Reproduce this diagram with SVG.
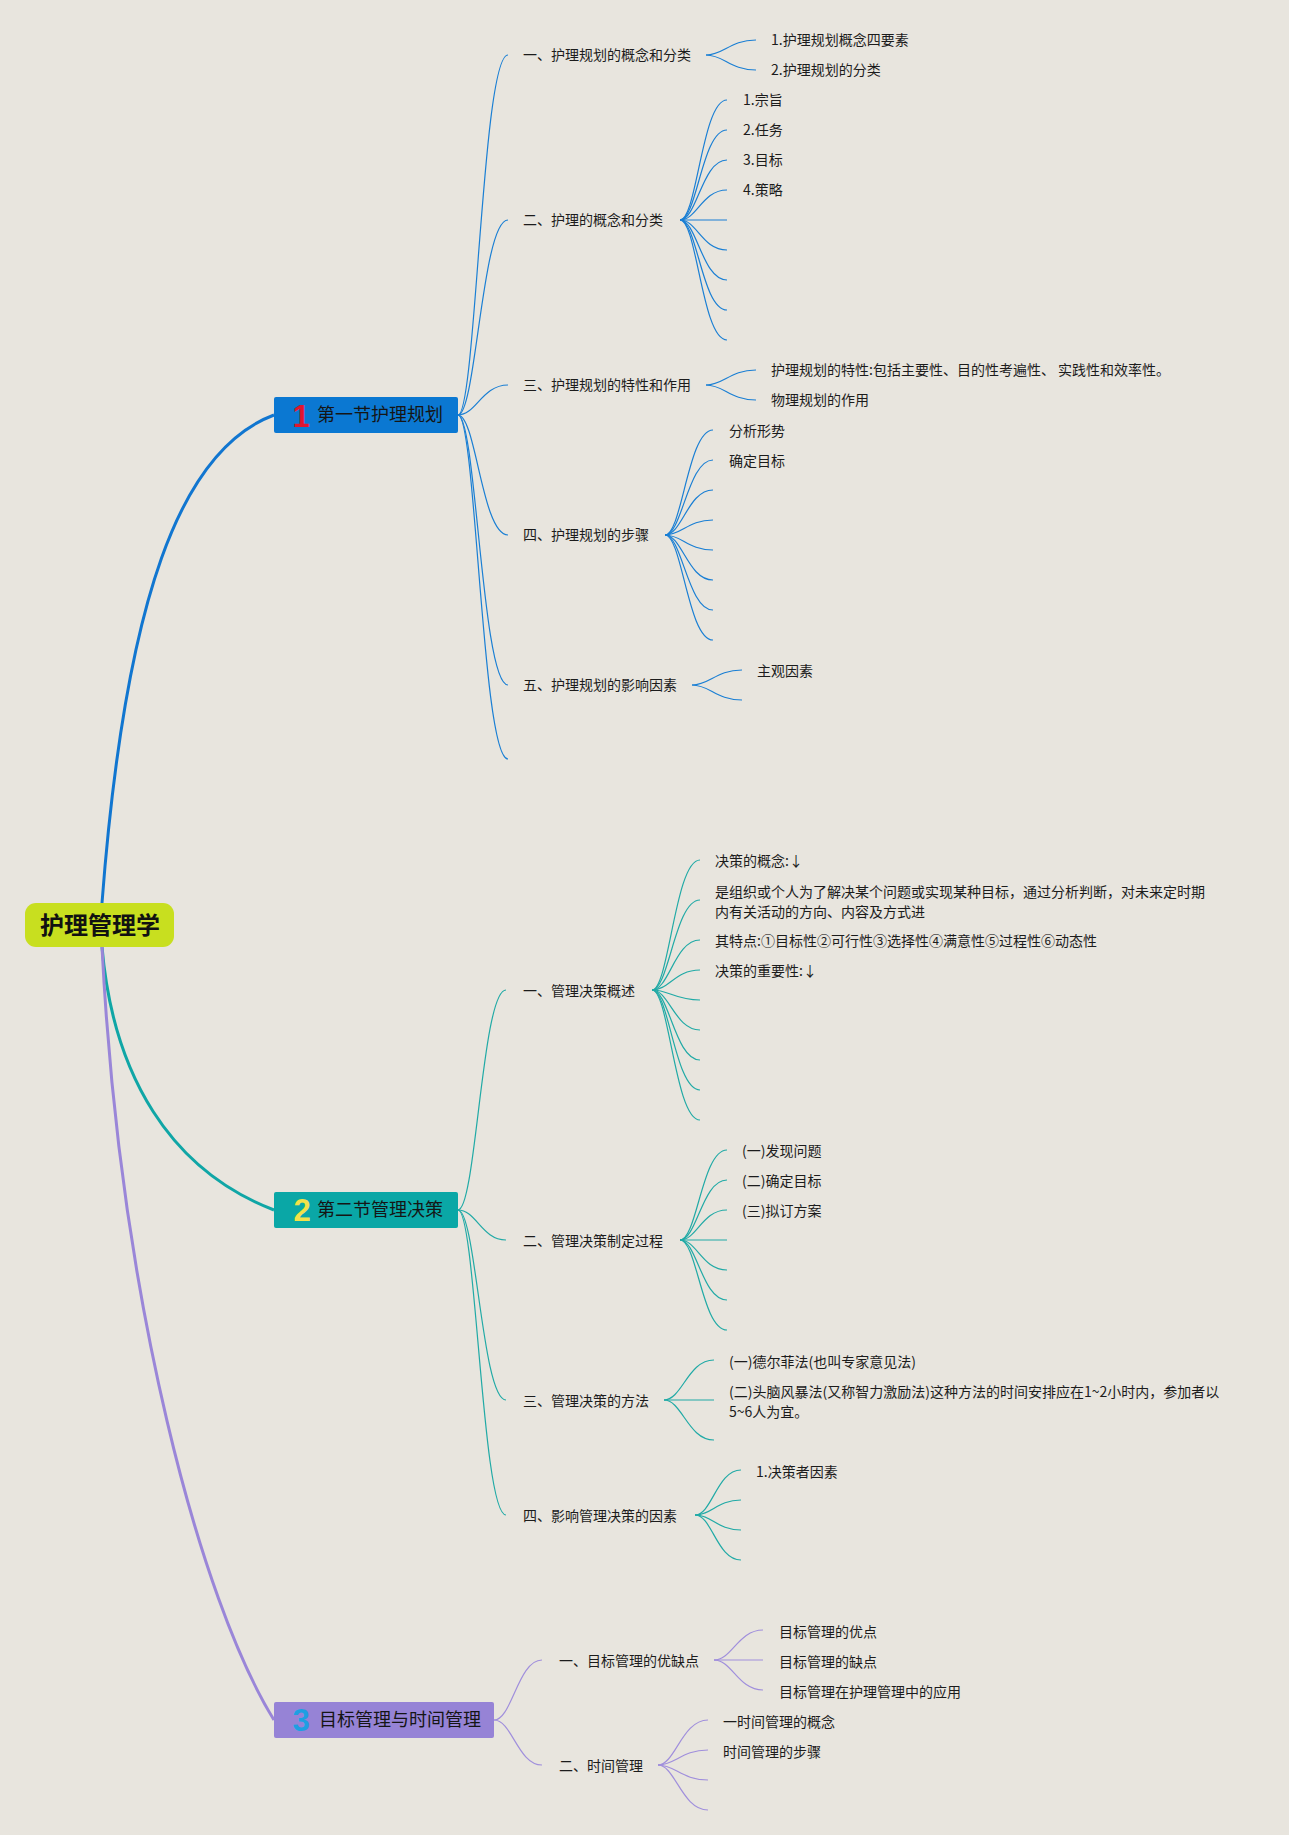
<svg xmlns="http://www.w3.org/2000/svg" width="1289" height="1835" viewBox="0 0 1289 1835">
<style>
.t{font-family:"Noto Sans CJK SC","Noto Sans",sans-serif;font-size:14px;fill:#1c1c1c}
.sec{font-family:"Noto Sans CJK SC","Noto Sans",sans-serif;font-size:18px;fill:#151515}
.num{font-family:"Liberation Sans","Noto Sans",sans-serif;font-size:31px;font-weight:bold;text-anchor:middle}
.root{font-family:"Noto Sans CJK SC","Noto Sans",sans-serif;font-size:24px;font-weight:bold;fill:#111;text-anchor:middle}
.b{fill:none;stroke:#1a7fd4;stroke-width:1.2}
.g{fill:none;stroke:#21aaa6;stroke-width:1.2}
.p{fill:none;stroke:#a08fdc;stroke-width:1.2}
</style>
<rect x="0" y="0" width="1289" height="1835" fill="#e8e5de"/>
<g id="connectors">
  <path d="M102,903 C125,600 180,450 274,415" fill="none" stroke="#1176d0" stroke-width="3"/>
  <path d="M102,947 C113,1075 170,1170 274,1210" fill="none" stroke="#10a6a6" stroke-width="3"/>
  <path d="M102,947 C120,1300 200,1600 274,1720" fill="none" stroke="#9a86d8" stroke-width="3"/>
  <!-- section 1 -->
  <path class="b" d="M458,415 C476,415 482,55 508,55"/>
  <path class="b" d="M458,415 C476,415 482,220 508,220"/>
  <path class="b" d="M458,415 C476,415 482,385 508,385"/>
  <path class="b" d="M458,415 C476,415 482,535 508,535"/>
  <path class="b" d="M458,415 C476,415 482,685 508,685"/>
  <path class="b" d="M458,415 C476,415 482,759 508,759"/>
  <path class="b" d="M706,55 C724,55 730,40 756,40"/>
  <path class="b" d="M706,55 C724,55 730,70 756,70"/>
  <path class="b" d="M680,220 C697,220 702,100 727,100"/>
  <path class="b" d="M680,220 C697,220 702,130 727,130"/>
  <path class="b" d="M680,220 C697,220 702,160 727,160"/>
  <path class="b" d="M680,220 C697,220 702,190 727,190"/>
  <path class="b" d="M680,220 L727,220"/>
  <path class="b" d="M680,220 C697,220 702,250 727,250"/>
  <path class="b" d="M680,220 C697,220 702,280 727,280"/>
  <path class="b" d="M680,220 C697,220 702,310 727,310"/>
  <path class="b" d="M680,220 C697,220 702,340 727,340"/>
  <path class="b" d="M706,385 C724,385 730,370 756,370"/>
  <path class="b" d="M706,385 C724,385 730,400 756,400"/>
  <path class="b" d="M665,535 C682,535 688,430 713,430"/>
  <path class="b" d="M665,535 C682,535 688,460 713,460"/>
  <path class="b" d="M665,535 C682,535 688,490 713,490"/>
  <path class="b" d="M665,535 C682,535 688,520 713,520"/>
  <path class="b" d="M665,535 C682,535 688,550 713,550"/>
  <path class="b" d="M665,535 C682,535 688,580 713,580"/>
  <path class="b" d="M665,535 C682,535 688,610 713,610"/>
  <path class="b" d="M665,535 C682,535 688,640 713,640"/>
  <path class="b" d="M692,685 C710,685 716,670 742,670"/>
  <path class="b" d="M692,685 C710,685 716,700 742,700"/>
  <!-- section 2 -->
  <path class="g" d="M458,1210 C476,1210 482,990 506,990"/>
  <path class="g" d="M458,1210 C476,1210 482,1240 506,1240"/>
  <path class="g" d="M458,1210 C476,1210 482,1400 506,1400"/>
  <path class="g" d="M458,1210 C476,1210 482,1515 506,1515"/>
  <path class="g" d="M652,990 C669,990 675,860 700,860"/>
  <path class="g" d="M652,990 C669,990 675,900 700,900"/>
  <path class="g" d="M652,990 C669,990 675,940 700,940"/>
  <path class="g" d="M652,990 C669,990 675,970 700,970"/>
  <path class="g" d="M652,990 C669,990 675,1000 700,1000"/>
  <path class="g" d="M652,990 C669,990 675,1030 700,1030"/>
  <path class="g" d="M652,990 C669,990 675,1060 700,1060"/>
  <path class="g" d="M652,990 C669,990 675,1090 700,1090"/>
  <path class="g" d="M652,990 C669,990 675,1120 700,1120"/>
  <path class="g" d="M680,1240 C697,1240 702,1150 727,1150"/>
  <path class="g" d="M680,1240 C697,1240 702,1180 727,1180"/>
  <path class="g" d="M680,1240 C697,1240 702,1210 727,1210"/>
  <path class="g" d="M680,1240 L727,1240"/>
  <path class="g" d="M680,1240 C697,1240 702,1270 727,1270"/>
  <path class="g" d="M680,1240 C697,1240 702,1300 727,1300"/>
  <path class="g" d="M680,1240 C697,1240 702,1330 727,1330"/>
  <path class="g" d="M664,1400 C682,1400 688,1360 714,1360"/>
  <path class="g" d="M664,1400 L714,1400"/>
  <path class="g" d="M664,1400 C682,1400 688,1440 714,1440"/>
  <path class="g" d="M695,1515 C712,1515 717,1470 741,1470"/>
  <path class="g" d="M695,1515 C712,1515 717,1500 741,1500"/>
  <path class="g" d="M695,1515 C712,1515 717,1530 741,1530"/>
  <path class="g" d="M695,1515 C712,1515 717,1560 741,1560"/>
  <!-- section 3 -->
  <path class="p" d="M494,1720 C512,1720 518,1660 542,1660"/>
  <path class="p" d="M494,1720 C512,1720 518,1765 542,1765"/>
  <path class="p" d="M714,1660 C732,1660 738,1630 763,1630"/>
  <path class="p" d="M714,1660 L763,1660"/>
  <path class="p" d="M714,1660 C732,1660 738,1690 763,1690"/>
  <path class="p" d="M658,1765 C675,1765 682,1720 708,1720"/>
  <path class="p" d="M658,1765 C675,1765 682,1750 708,1750"/>
  <path class="p" d="M658,1765 C675,1765 682,1780 708,1780"/>
  <path class="p" d="M658,1765 C675,1765 682,1810 708,1810"/>
</g>
<g id="root">
  <rect x="25" y="903" width="149" height="44" rx="11" fill="#c8df1f"/>
  <text class="root" x="100" y="934">护理管理学</text>
</g>
<g id="sec1">
  <rect x="274" y="397" width="184" height="36" rx="2" fill="#0b78d2"/>
  <text class="num" x="301" y="427" fill="#e0152f">1</text>
  <text class="sec" x="317" y="421">第一节护理规划</text>
</g>
<g id="sec2">
  <rect x="274" y="1192" width="184" height="36" rx="2" fill="#0aa7a6"/>
  <text class="num" x="302" y="1221" fill="#f2e24a">2</text>
  <text class="sec" x="317" y="1216">第二节管理决策</text>
</g>
<g id="sec3">
  <rect x="274" y="1702" width="220" height="36" rx="2" fill="#9683d6"/>
  <text class="num" x="301" y="1731" fill="#1e9fe2">3</text>
  <text class="sec" x="319" y="1726">目标管理与时间管理</text>
</g>
<g id="s1-items">
  <text class="t" x="523" y="60">一、护理规划的概念和分类</text>
  <text class="t" x="771" y="45">1.护理规划概念四要素</text>
  <text class="t" x="771" y="75">2.护理规划的分类</text>
  <text class="t" x="523" y="225">二、护理的概念和分类</text>
  <text class="t" x="743" y="105">1.宗旨</text>
  <text class="t" x="743" y="135">2.任务</text>
  <text class="t" x="743" y="165">3.目标</text>
  <text class="t" x="743" y="195">4.策略</text>
  <text class="t" x="523" y="390">三、护理规划的特性和作用</text>
  <text class="t" x="771" y="375">护理规划的特性:包括主要性、目的性考遍性、 实践性和效率性。</text>
  <text class="t" x="771" y="405">物理规划的作用</text>
  <text class="t" x="523" y="540">四、护理规划的步骤</text>
  <text class="t" x="729" y="436">分析形势</text>
  <text class="t" x="729" y="466">确定目标</text>
  <text class="t" x="523" y="690">五、护理规划的影响因素</text>
  <text class="t" x="757" y="676">主观因素</text>
</g>
<g id="s2-items">
  <text class="t" x="523" y="996">一、管理决策概述</text>
  <text class="t" x="715" y="866">决策的概念:↓</text>
  <text class="t" x="715" y="897">是组织或个人为了解决某个问题或实现某种目标，通过分析判断，对未来定时期</text>
  <text class="t" x="715" y="917">内有关活动的方向、内容及方式进</text>
  <text class="t" x="715" y="946">其特点:①目标性②可行性③选择性④满意性⑤过程性⑥动态性</text>
  <text class="t" x="715" y="976">决策的重要性:↓</text>
  <text class="t" x="523" y="1246">二、管理决策制定过程</text>
  <text class="t" x="742" y="1156">(一)发现问题</text>
  <text class="t" x="742" y="1186">(二)确定目标</text>
  <text class="t" x="742" y="1216">(三)拟订方案</text>
  <text class="t" x="523" y="1406">三、管理决策的方法</text>
  <text class="t" x="729" y="1367">(一)德尔菲法(也叫专家意见法)</text>
  <text class="t" x="729" y="1397">(二)头脑风暴法(又称智力激励法)这种方法的时间安排应在1~2小时内，参加者以</text>
  <text class="t" x="729" y="1417">5~6人为宜。</text>
  <text class="t" x="523" y="1521">四、影响管理决策的因素</text>
  <text class="t" x="756" y="1477">1.决策者因素</text>
</g>
<g id="s3-items">
  <text class="t" x="559" y="1666">一、目标管理的优缺点</text>
  <text class="t" x="779" y="1637">目标管理的优点</text>
  <text class="t" x="779" y="1667">目标管理的缺点</text>
  <text class="t" x="779" y="1697">目标管理在护理管理中的应用</text>
  <text class="t" x="559" y="1771">二、时间管理</text>
  <text class="t" x="723" y="1727">一时间管理的概念</text>
  <text class="t" x="723" y="1757">时间管理的步骤</text>
</g>
</svg>
